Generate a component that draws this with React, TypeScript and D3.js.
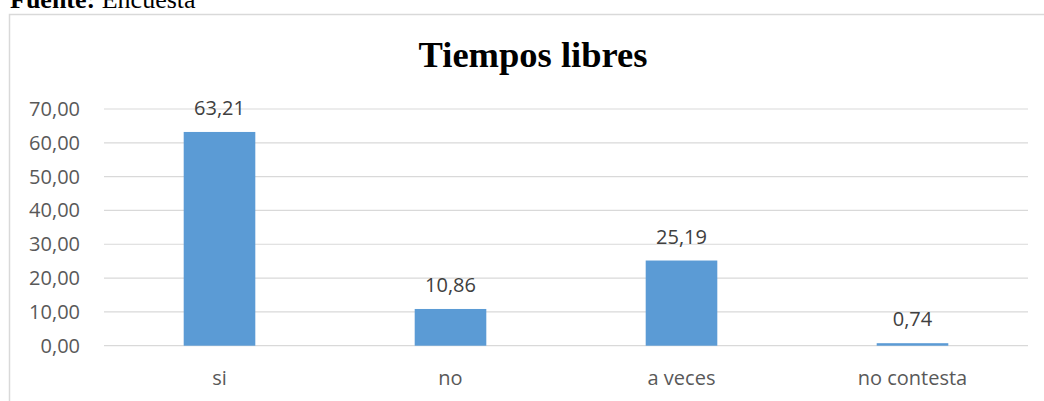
import React from "react";
import * as d3 from "d3";

const categories = ["si", "no", "a veces", "no contesta"];
const values = [63.21, 10.86, 25.19, 0.74];
const yTicks = [0, 10, 20, 30, 40, 50, 60, 70];
const title = "Tiempos libres";

const W = 1044;
const H = 401;

const fmt = (v: number, d: number) => v.toFixed(d).replace(".", ",");

export default function App() {
  const x = d3.scaleBand<string>().domain(categories).range([104, 1028]).paddingInner(0.69).paddingOuter(0.345);
  const y = d3.scaleLinear().domain([0, 70]).range([345.7, 109]);
  const sans = "'Open Sans', 'Noto Sans', sans-serif";
  return (
    <svg width={W} height={H} style={{ position: "absolute", left: 0, top: 0, background: "#fff" }}>
      <text x={10} y={7.5} fontFamily="'Liberation Serif', 'Times New Roman', serif" fontSize={26} fill="#000">
        <tspan fontWeight="bold">Fuente:</tspan>
        <tspan> Encuesta</tspan>
      </text>
      <rect x={9.5} y={14.5} width={1100} height={500} fill="none" stroke="#d9d9d9" strokeWidth={1.5} />
      <text x={533} y={67} textAnchor="middle" fontFamily="'Liberation Serif', 'Times New Roman', serif" fontWeight="bold" fontSize={36.5} fill="#000">
        {title}
      </text>
      {yTicks.map((t) => (
        <g key={t}>
          <line x1={104} x2={1028} y1={y(t)} y2={y(t)} stroke="#d9d9d9" strokeWidth={1.2} />
          <text x={80} y={y(t) + 7} textAnchor="end" fontFamily={sans} fontSize={20} fill="#595959">
            {fmt(t, 2)}
          </text>
        </g>
      ))}
      {categories.map((c, i) => {
        const bx = x(c)!;
        const bw = x.bandwidth();
        return (
          <g key={c}>
            <rect x={bx} y={y(values[i])} width={bw} height={y(0) - y(values[i])} fill="#5b9bd5" />
            <text x={bx + bw / 2} y={y(values[i]) - 17} textAnchor="middle" fontFamily={sans} fontSize={20} fill="#404040">
              {fmt(values[i], 2)}
            </text>
            <text x={bx + bw / 2} y={385} textAnchor="middle" fontFamily={sans} fontSize={20} fill="#595959">
              {c}
            </text>
          </g>
        );
      })}
    </svg>
  );
}
